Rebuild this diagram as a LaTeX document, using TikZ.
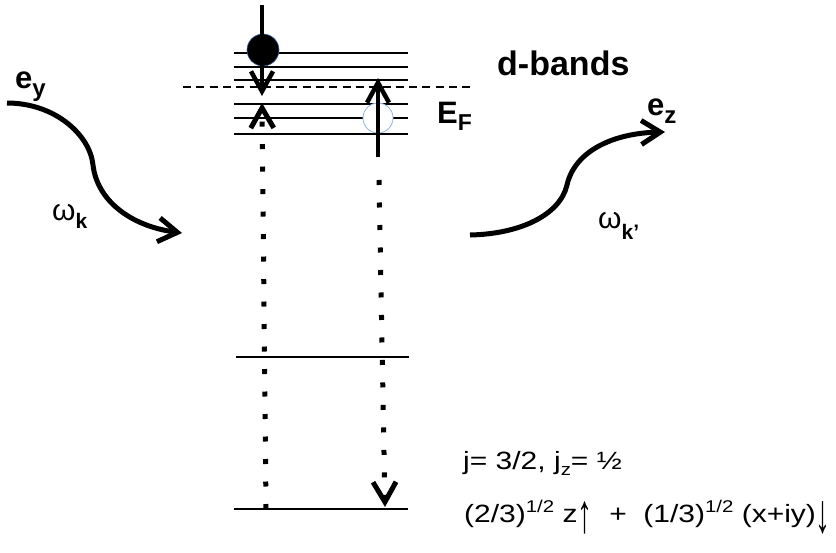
\documentclass[tikz,border=0pt]{standalone}
\usepackage{fontspec}
\setmainfont{Liberation Sans}
\newfontfamily\widesans[FakeStretch=1.2]{Liberation Sans}
\usepackage{tikz}
\usetikzlibrary{arrows.meta}
\definecolor{elecline}{HTML}{3A5F9A}
\definecolor{holeline}{HTML}{8EB4E3}
\newcommand{\subtxt}[3]{\raisebox{-#1}{\fontsize{#2}{#2}\selectfont #3}}
\newcommand{\suptxt}[1]{\raisebox{10pt}{\fontsize{17}{17}\selectfont #1}}
\newcommand{\tallarr}[1]{\raisebox{-10pt}{\scalebox{1}[2.2]{#1}}}

\begin{document}
\begin{tikzpicture}[
  x=1pt, y=-1pt,
  font=\fontsize{25}{28}\selectfont,
  lvl/.style={line width=2.2pt},
  fermi/.style={line width=2pt, dash pattern=on 8pt off 5.3pt},
  jump/.style={line width=4.5pt, -{Straight Barb[length=20pt, width=22pt]}},
  dotjump/.style={line width=5pt, dash pattern=on 5pt off 17.5pt, -{Straight Barb[length=20pt, width=23pt]}},
  photon/.style={line width=5pt, -{Straight Barb[length=19pt, width=24pt]}},
  lbl/.style={anchor=base west, inner sep=0pt},
  bold/.style={lbl, font=\bfseries\fontsize{31}{34}\selectfont},
  eqn/.style={lbl, font=\widesans\fontsize{25}{28}\selectfont},
  dot/.style={circle, inner sep=0pt}
]
  \useasboundingbox (0,0) rectangle (836,552);

  % d-band levels
  \draw[lvl] (234,53) -- (408,53);
  \draw[lvl] (234,67) -- (408,67);
  \draw[lvl] (234,80) -- (408,80);
  \draw[lvl] (234,104) -- (408,104);
  \draw[lvl] (234,118) -- (408,118);
  \draw[lvl] (234,134) -- (408,134);
  % core levels
  \draw[lvl] (236,357) -- (409,357);
  \draw[lvl] (234,509) -- (408,509);
  % fermi level
  \draw[fermi] (183,87) -- (470,87);

  % electron and hole
  \node[dot, fill=black, draw=elecline, line width=0.6pt, minimum size=32pt] (elec) at (263,50) {};
  \node[dot, fill=white, draw=holeline, line width=0.8pt, minimum size=30pt] (hole) at (378,118) {};

  % transitions
  \coordinate (intop) at (262,5);
  \coordinate (inend) at (262,96);
  \coordinate (coreL) at (266,509);
  \coordinate (upend) at (262,103);
  \coordinate (holebot) at (378,157);
  \coordinate (holetop) at (378,78);
  \coordinate (dropL) at (379,180);
  \coordinate (coreR) at (385,507);
  \draw[jump] (intop) -- (inend);
  \draw[dotjump] (coreL) -- (upend);
  \draw[jump] (holebot) -- (holetop);
  \draw[dotjump] (dropL) -- (coreR);

  % photons
  \coordinate (inA) at (7,103);
  \coordinate (inB) at (182,233);
  \coordinate (outA) at (470,235);
  \coordinate (outB) at (665,132);
  \draw[photon] (inA) .. controls (55,103) and (90,135) .. (93,165) .. controls (97,200) and (130,226) .. (inB);
  \draw[photon] (outA) .. controls (520,234) and (560,215) .. (567,185) .. controls (575,150) and (615,133) .. (outB);

  % labels
  \node[bold, font=\bfseries\fontsize{34}{36}\selectfont] (dband) at (497,75) {d-bands};
  \node[bold] (ef) at (437,123) {E\subtxt{7pt}{23}{F}};
  \node[bold] (ey) at (15,88) {e\subtxt{8pt}{24}{y}};
  \node[bold] (ez) at (647,115) {e\subtxt{8pt}{24}{z}};
  \node[lbl, font=\fontsize{30}{32}\selectfont] (wk) at (52,220) {ω\subtxt{8pt}{21}{\bfseries k}};
  \node[lbl, font=\fontsize{30}{32}\selectfont] (wkp) at (598,228) {ω\subtxt{11pt}{21}{\bfseries k'}};
  \node[eqn] (jline) at (463,469) {j= 3/2, j\subtxt{6pt}{17}{z}= ½};
  \node[eqn] (state) at (464,522) {(2/3)\suptxt{1/2} z\tallarr{↑} \ + \ (1/3)\suptxt{1/2} (x+iy)\tallarr{↓}};
\end{tikzpicture}
\end{document}
